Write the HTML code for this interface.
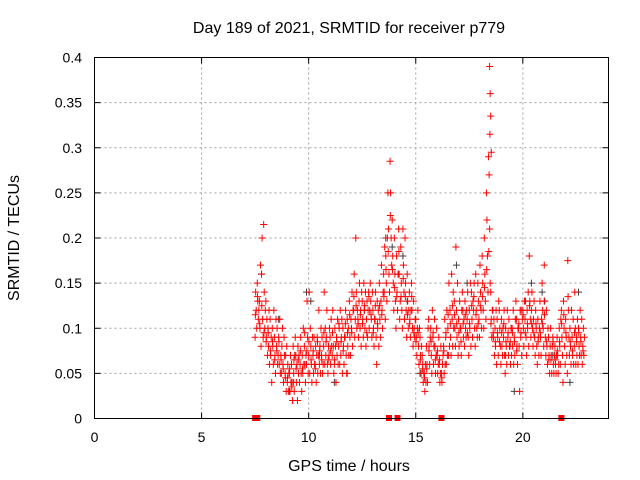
<!DOCTYPE html>
<html><head><meta charset="utf-8"><style>
body{margin:0;background:#fff}
svg{display:block;font-family:"Liberation Sans",sans-serif}
</style></head><body>
<svg id="chart" width="640" height="480" viewBox="0 0 640 480" xmlns="http://www.w3.org/2000/svg">
<rect width="640" height="480" fill="#fff"/>
<text x="349" y="33" font-size="16" text-anchor="middle">Day 189 of 2021, SRMTID for receiver p779</text>
<text x="19" y="238" font-size="16" text-anchor="middle" transform="rotate(-90 19 238)">SRMTID / TECUs</text>
<text x="349" y="471" font-size="16" text-anchor="middle">GPS time / hours</text>
<g id="grid"></g><g id="ticks"></g><g id="gray"></g><g id="red"></g><g id="marks"></g>
<rect x="94.5" y="57.5" width="514" height="361" fill="none" stroke="#000"/>
</svg>
<script>
const xTicks=[0,5,10,15,20];
const yTicks=[0,0.05,0.1,0.15,0.2,0.25,0.3,0.35,0.4];
const yTickLabels=["0","0.05","0.1","0.15","0.2","0.25","0.3","0.35","0.4"];
const redTimes=[7.5,7.6,7.7,7.8,7.9,8.0,8.1,8.2,8.3,8.4,8.5,8.6,8.7,8.8,8.9,9.0,9.1,9.2,9.3,9.4,9.5,9.6,9.7,9.8,9.9,10.0,10.1,10.2,10.3,10.4,10.5,10.6,10.7,10.8,10.9,11.0,11.1,11.2,11.3,11.4,11.5,11.6,11.7,11.8,11.9,12.0,12.1,12.2,12.3,12.4,12.5,12.6,12.7,12.8,12.9,13.0,13.1,13.2,13.3,13.4,13.5,13.6,13.7,13.8,13.9,14.0,14.1,14.2,14.3,14.4,14.5,14.6,14.7,14.8,14.9,15.0,15.1,15.2,15.3,15.4,15.5,15.6,15.7,15.8,15.9,16.0,16.1,16.2,16.3,16.4,16.5,16.6,16.7,16.8,16.9,17.0,17.1,17.2,17.3,17.4,17.5,17.6,17.7,17.8,17.9,18.0,18.1,18.2,18.3,18.4,18.45,18.5,18.6,18.7,18.8,18.9,19.0,19.1,19.2,19.3,19.4,19.5,19.6,19.7,19.8,19.9,20.0,20.1,20.2,20.3,20.4,20.5,20.6,20.7,20.8,20.9,21.0,21.1,21.2,21.3,21.4,21.5,21.6,21.7,21.8,21.9,22.0,22.1,22.2,22.3,22.4,22.5,22.6,22.7,22.8];
const redValues=[
[.09,.14,.12,.10],[.15,.13,.11,.12],[.13,.10,.17,.08],[.16,.20,.11,.09],[.215,.14,.10,.12],
[.13,.09,.11,.07],[.10,.08,.12,.06],[.11,.07,.09,.04],[.10,.08,.06,.12],[.09,.07,.05,.11],
[.08,.10,.06,.07],[.09,.06,.11,.05],[.07,.05,.08,.10],[.06,.04,.09,.07],[.05,.07,.03,.08],
[.04,.06,.03,.05],[.05,.03,.07,.04],[.06,.04,.02,.08],[.05,.03,.07,.09],[.07,.04,.06,.02],
[.08,.05,.07,.04],[.06,.09,.05,.03],[.07,.05,.10,.06],[.08,.06,.04,.07],[.06,.13,.09,.05],
[.07,.14,.05,.10],[.08,.06,.04,.09],[.07,.05,.09,.06],[.06,.08,.04,.07],[.09,.05,.07,.12],
[.06,.08,.05,.10],[.07,.09,.05,.06],[.08,.14,.06,.10],[.07,.09,.12,.06],[.05,.08,.07,.10],
[.09,.06,.11,.08],[.07,.12,.08,.05],[.06,.10,.08,.04],[.09,.07,.11,.06],[.08,.10,.06,.12],
[.07,.09,.11,.05],[.10,.08,.06,.09],[.09,.12,.07,.05],[.11,.08,.10,.07],[.13,.09,.07,.11],
[.10,.14,.08,.12],[.12,.16,.09,.11],[.20,.14,.10,.12],[.11,.09,.13,.15],[.10,.12,.08,.14],
[.13,.11,.09,.15],[.12,.10,.14,.08],[.11,.13,.09,.12],[.14,.10,.12,.15],[.13,.11,.09,.14],
[.12,.10,.08,.11],[.11,.14,.09,.06],[.13,.10,.12,.08],[.15,.11,.09,.13],[.17,.12,.10,.14],
[.16,.14,.19,.11],[.18,.15,.13,.20],[.25,.21,.16,.14],[.285,.25,.20,.17],[.22,.18,.15,.12],
[.20,.16,.13,.10],[.18,.14,.12,.16],[.21,.16,.11,.13],[.19,.15,.12,.10],[.21,.17,.14,.11],
[.20,.15,.12,.09],[.16,.13,.10,.12],[.14,.11,.09,.12],[.15,.12,.10,.08],[.13,.10,.09,.11],
[.11,.09,.07,.10],[.12,.08,.06,.10],[.09,.07,.05,.08],[.07,.06,.04,.05],[.05,.03,.06,.04],
[.08,.06,.04,.10],[.11,.08,.06,.09],[.10,.07,.05,.12],[.09,.06,.08,.11],[.08,.05,.07,.10],
[.07,.05,.06,.09],[.06,.04,.05,.08],[.05,.04,.06,.07],[.08,.05,.11,.06],[.09,.06,.12,.07],
[.10,.07,.15,.08],[.12,.09,.07,.16],[.11,.08,.14,.10],[.13,.10,.08,.19],[.12,.09,.15,.07],
[.11,.08,.13,.10],[.10,.07,.12,.14],[.12,.09,.11,.08],[.13,.10,.09,.12],[.11,.14,.09,.07],
[.12,.10,.15,.08],[.14,.11,.09,.13],[.12,.15,.10,.08],[.16,.12,.10,.09],[.15,.13,.11,.09],
[.17,.14,.12,.10],[.18,.15,.12,.10],[.20,.16,.13,.11],[.25,.22,.18,.14],[.29,.27,.21,.15],
[.39,.36,.335,.295],[.14,.11,.09,.12],[.12,.09,.11,.07],[.10,.08,.12,.06],[.11,.09,.07,.13],
[.12,.10,.08,.06],[.11,.08,.07,.10],[.09,.12,.07,.05],[.10,.08,.06,.12],[.09,.07,.11,.08],
[.08,.06,.10,.07],[.10,.08,.12,.06],[.09,.07,.11,.13],[.11,.08,.06,.10],[.10,.08,.03,.12],
[.09,.12,.07,.11],[.12,.10,.08,.13],[.11,.13,.09,.07],[.12,.10,.14,.08],[.18,.13,.11,.09],
[.12,.14,.10,.08],[.11,.13,.09,.07],[.12,.10,.08,.06],[.11,.09,.07,.10],[.13,.09,.07,.11],
[.15,.12,.10,.08],[.17,.13,.09,.07],[.12,.08,.06,.10],[.09,.07,.05,.08],[.10,.07,.05,.08],
[.09,.06,.05,.07],[.08,.06,.05,.07],[.09,.07,.05,.06],[.10,.08,.06,.11],[.12,.09,.07,.04],
[.13,.10,.08,.06],[.11,.09,.07,.05],[.175,.12,.09,.07],[.10,.08,.06,.12],[.09,.07,.11,.06],
[.08,.14,.10,.06],[.09,.07,.11,.06],[.10,.08,.07,.12],[.09,.07,.11,.06],[.08,.10,.07,.09]];
const redExtra=[
.115,.135,.105,.125,.095,.085,.095,.075,.085,.065,.075,.085,.065,.055,.045,.045,.055,.035,.065,.055,
.065,.075,.055,.095,.075,.085,.065,.075,.055,.085,.075,.065,.095,.085,.065,.075,.095,.065,.085,.105,
.085,.075,.105,.095,.115,.095,.135,.125,.105,.115,.105,.125,.095,.135,.115,.095,.125,.105,.125,.115,
.135,.165,.185,.225,.165,.145,.135,.185,.135,.155,.135,.115,.105,.135,.095,.085,.095,.065,.055,.045,
.055,.075,.085,.095,.065,.075,.065,.045,.075,.095,.115,.105,.125,.115,.105,.095,.085,.105,.115,.095,
.105,.125,.135,.115,.105,.125,.135,.145,.165,.185,.315,.105,.095,.085,.095,.085,.095,.105,.085,.095,
.085,.095,.085,.075,.105,.095,.115,.095,.105,.125,.105,.095,.105,.085,.095,.105,.115,.085,.065,.065,
.085,.065,.075,.085,.105,.115,.095,.135,.085,.075,.095,.085,.095,.085,.075];
const grayTimes=[7.8,8.6,9.1,9.3,9.9,10.1,10.5,11.2,11.8,12.6,13.6,13.9,14.2,14.4,14.6,15.2,16.9,17.4,19.2,19.6,20.4,20.9,21.0,21.4,22.2,22.6];
const grayValues=[0.16,0.11,0.03,0.04,0.14,0.13,0.07,0.04,0.05,0.12,0.20,0.19,0.16,0.18,0.13,0.05,0.17,0.15,0.07,0.03,0.15,0.14,0.13,0.07,0.04,0.14];
const markerTimes=[7.5,7.6,13.75,14.15,16.2,21.8];

const NS="http://www.w3.org/2000/svg";
const X0=94.5,X1=608.5,XMAX=24,Y0=418.5,Y1=57.5,YMAX=0.4;
const xs=t=>X0+(X1-X0)*t/XMAX;
const ys=v=>Y0-(Y0-Y1)*v/YMAX;
function el(tag,attrs,parent){const e=document.createElementNS(NS,tag);for(const k in attrs)e.setAttribute(k,attrs[k]);parent.appendChild(e);return e;}
const grid=document.getElementById('grid'),ticks=document.getElementById('ticks');
xTicks.forEach((t,i)=>{
  const x=xs(t);
  if(t>0){const g=el('line',{x1:x,x2:x,y1:Y1,y2:Y0,stroke:'#a0a0a0','stroke-dasharray':'2,3'},grid);
  
  }
  el('line',{x1:x,x2:x,y1:Y0,y2:Y0-6,stroke:'#000'},ticks);
  el('line',{x1:x,x2:x,y1:Y1,y2:Y1+6,stroke:'#000'},ticks);
  const tx=el('text',{x:x,y:442,'font-size':14,'text-anchor':'middle'},ticks);
  tx.textContent=String(t);
  
  
});
yTicks.forEach((v,i)=>{
  const y=ys(v);
  if(v>0&&v<YMAX){const g=el('line',{x1:X0,x2:X1,y1:y,y2:y,stroke:'#a0a0a0','stroke-dasharray':'2,3'},grid);
  
  }
  el('line',{x1:X0,x2:X0+6,y1:y,y2:y,stroke:'#000'},ticks);
  el('line',{x1:X1,x2:X1-6,y1:y,y2:y,stroke:'#000'},ticks);
  const tx=el('text',{x:82,y:y+5,'font-size':14,'text-anchor':'end'},ticks);
  tx.textContent=yTickLabels[i];
  
  
});
function plus(g,t,v,color,name){
  const x=xs(t),y=ys(v);
  const p=el('path',{d:`M${x-3.5},${y}h7M${x},${y-3.5}v7`,stroke:color,'stroke-width':1,fill:'none'},g);
  
  
}
const gg=document.getElementById('gray');
grayTimes.forEach((t,i)=>plus(gg,t,grayValues[i],'#404040','gray-point'));
const rg=document.getElementById('red');
redTimes.forEach((t,i)=>{
  redValues[i].forEach((v,k)=>plus(rg,t+k*0.025,v,'#ff0000','red-point'));
  plus(rg,t+0.0125,redExtra[i],'#ff0000','red-point');
});
const mg=document.getElementById('marks');
markerTimes.forEach(t=>{
  const r=el('rect',{x:xs(t)-3,y:Y0-3.5,width:6,height:6,fill:'#ff0000'},mg);
  
  
});
</script>
</body></html>
